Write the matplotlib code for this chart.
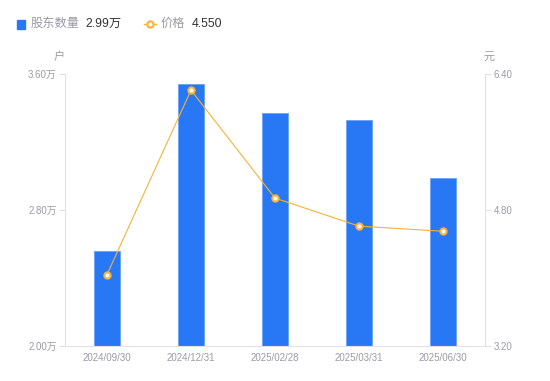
import matplotlib
matplotlib.use("Agg")
import matplotlib.pyplot as plt
from matplotlib.lines import Line2D
import numpy as np

plt.rcParams['font.family'] = ['Liberation Sans', 'Noto Sans CJK SC', 'DejaVu Sans']

categories = ["2024/09/30", "2024/12/31", "2025/02/28", "2025/03/31", "2025/06/30"]
holders = [2.56, 3.54, 3.37, 3.33, 2.99]   # 万户
prices = [4.04, 6.21, 4.94, 4.61, 4.55]    # 元
left_ticks = [2.00, 2.80, 3.60]
right_ticks = [3.20, 4.80, 6.40]

W, H = 550, 381
fig = plt.figure(figsize=(W / 100, H / 100), dpi=100)
ax = fig.add_axes([65 / W, (H - 346) / H, 420 / W, 272 / H])

gray = '#9a9aa6'
axcol = '#e2e2e6'
bar_col = '#2878f6'
line_col = '#f7b23b'

x = np.arange(len(categories))
ax.bar(x, holders, width=0.3, color=bar_col, edgecolor='#6aa3f8', linewidth=0.6, zorder=2)
ax.set_xlim(-0.5, len(categories) - 0.5)
ax.set_ylim(left_ticks[0], left_ticks[-1])
ax.set_yticks(left_ticks)
ax.set_yticklabels([f"{v:.2f}万" for v in left_ticks])
ax.set_xticks(x)
ax.set_xticklabels(categories)

ax2 = ax.twinx()
ax2.plot(x, prices, color=line_col, linewidth=0.8, marker='o', markersize=4.5,
         markerfacecolor='white', markeredgecolor=line_col, markeredgewidth=1.5, zorder=3)
ax2.set_ylim(right_ticks[0], right_ticks[-1])
ax2.set_yticks(right_ticks)
ax2.set_yticklabels([f"{v:.2f}" for v in right_ticks])

for a in (ax, ax2):
    for s in a.spines.values():
        s.set_visible(False)
    a.tick_params(axis='y', colors=axcol, labelcolor=gray, labelsize=7, length=4, width=0.8, pad=2)
ax.spines['left'].set_visible(True)
ax.spines['left'].set_color(axcol)
ax.spines['bottom'].set_visible(True)
ax.spines['bottom'].set_color(axcol)
ax2.spines['right'].set_visible(True)
ax2.spines['right'].set_color(axcol)
ax.tick_params(axis='x', length=0, labelcolor=gray, labelsize=7, pad=5)

fig.text(59 / W, 1 - 57 / H, "户", color=gray, fontsize=8, ha='center', va='center')
fig.text(489 / W, 1 - 57 / H, "元", color=gray, fontsize=8, ha='center', va='center')

# Legend
ly = 1 - 24 / H
fig.patches.append(plt.Rectangle((17 / W, 1 - 29 / H), 8 / W, 9 / H, transform=fig.transFigure,
                                 color=bar_col, figure=fig))
fig.text(31 / W, ly, "股东数量", color=gray, fontsize=8.8, va='center')
fig.text(85 / W, ly, "2.99万", color='#333333', fontsize=8.8, va='center')
fig.lines.append(Line2D([144 / W, 156 / W], [ly, ly], transform=fig.transFigure, color=line_col,
                        linewidth=1))
fig.lines.append(Line2D([150 / W], [ly], transform=fig.transFigure, color=line_col,
                        marker='o', markersize=4.5, markerfacecolor='white',
                        markeredgecolor=line_col, markeredgewidth=1.5, linestyle='none'))
fig.text(161 / W, ly, "价格", color=gray, fontsize=8.8, va='center')
fig.text(192 / W, ly, "4.550", color='#333333', fontsize=8.8, va='center')

fig.savefig("out.png", dpi=100)
